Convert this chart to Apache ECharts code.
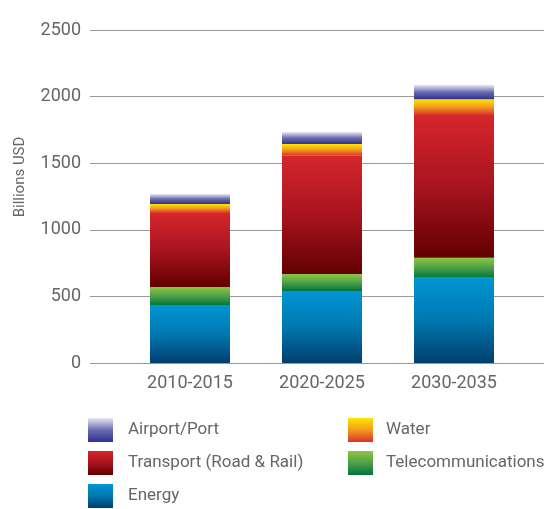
<!DOCTYPE html>
<html>
<head>
<meta charset="utf-8">
<script src="https://cdn.jsdelivr.net/npm/echarts@6/dist/echarts.min.js"></script>
<style>
  html, body { margin: 0; padding: 0; background: #fff; }
  #chart { width: 544px; height: 509px; }
</style>
</head>
<body>
<div id="chart"></div>
<script>
// periods on the x axis
const periods = ['2010-2015', '2020-2025', '2030-2035']

// billions USD per sector (bottom to top)
const energy    = [435, 540, 640]
const telecom   = [135, 128, 151]
const transport = [556, 888, 1071]
const water     = [68, 88, 118]
const airport   = [75, 90, 107]

const yTicks = [0, 500, 1000, 1500, 2000, 2500]

const grad = (stops) => new echarts.graphic.LinearGradient(0, 0, 0, 1,
  stops.map((c, i) => ({ offset: i / (stops.length - 1), color: c })))

const textColor = '#666'
const font = 'Roboto, "Liberation Sans", sans-serif'

const mkSeries = (name, data, color) => ({
  name,
  type: 'bar',
  stack: 'total',
  xAxisIndex: 1,
  yAxisIndex: 1,
  barWidth: 80,
  data,
  itemStyle: { color },
  emphasis: { disabled: true },
})

const legendBase = {
  orient: 'vertical',
  top: 418,
  height: 100,
  padding: 0,
  itemWidth: 25,
  itemHeight: 24,
  itemGap: 9,
  icon: 'rect',
  selectedMode: false,
}

const chart = echarts.init(document.getElementById('chart'), null, { renderer: 'canvas' })

chart.setOption({
  animation: false,
  textStyle: { fontFamily: font },
  grid: [
    // wide grid: y labels + gridlines
    { left: 90, right: 0, top: 30, bottom: 146 },
    // narrower grid: the bars
    { left: 124, right: 24, top: 30, bottom: 146 },
  ],
  xAxis: [
    { gridIndex: 0, type: 'value', show: false, min: 0, max: 1 },
    {
      gridIndex: 1,
      type: 'category',
      data: periods,
      axisLine: { show: false },
      axisTick: { show: false },
      axisLabel: { color: textColor, fontSize: 18, margin: 11, fontFamily: font },
    },
  ],
  yAxis: [
    {
      gridIndex: 0,
      type: 'value',
      min: yTicks[0],
      max: yTicks[yTicks.length - 1],
      interval: 500,
      axisLine: { show: false },
      axisTick: { show: false },
      axisLabel: { color: textColor, fontSize: 18, margin: 9, fontFamily: font, formatter: v => String(v) },
      splitLine: { lineStyle: { color: '#9a9a9a', width: 1 } },
    },
    {
      gridIndex: 1,
      type: 'value',
      min: yTicks[0],
      max: yTicks[yTicks.length - 1],
      show: false,
      splitLine: { show: false },
    },
  ],
  legend: [
    {
      ...legendBase,
      left: 88,
      data: ['Airport/Port', 'Transport (Road & Rail)', 'Energy'],
      textStyle: { color: textColor, fontSize: 17, fontFamily: font, padding: [2, 0, 0, 10] },
    },
    {
      ...legendBase,
      left: 348,
      data: ['Water', 'Telecommunications'],
      textStyle: { color: textColor, fontSize: 17, fontFamily: font, padding: [2, 0, 0, 8] },
    },
  ],
  graphic: [{
    type: 'text',
    x: 20,
    y: 177,
    rotation: Math.PI / 2,
    style: {
      text: 'Billions USD',
      fill: textColor,
      font: '15px ' + font,
      align: 'center',
      verticalAlign: 'middle',
    },
  }],
  series: [
    mkSeries('Energy', energy, grad(['#0096d4', '#0078b0', '#003f6d'])),
    mkSeries('Telecommunications', telecom, grad(['#8dc63f', '#4fa04a', '#00763a'])),
    mkSeries('Transport (Road & Rail)', transport, grad(['#d6262c', '#a8141f', '#620000'])),
    mkSeries('Water', water, grad(['#ffe600', '#f39a1f', '#d9312b'])),
    mkSeries('Airport/Port', airport, grad(['#e8e8f3', '#6a6cb0', '#2e3192'])),
  ],
})
</script>
</body>
</html>
